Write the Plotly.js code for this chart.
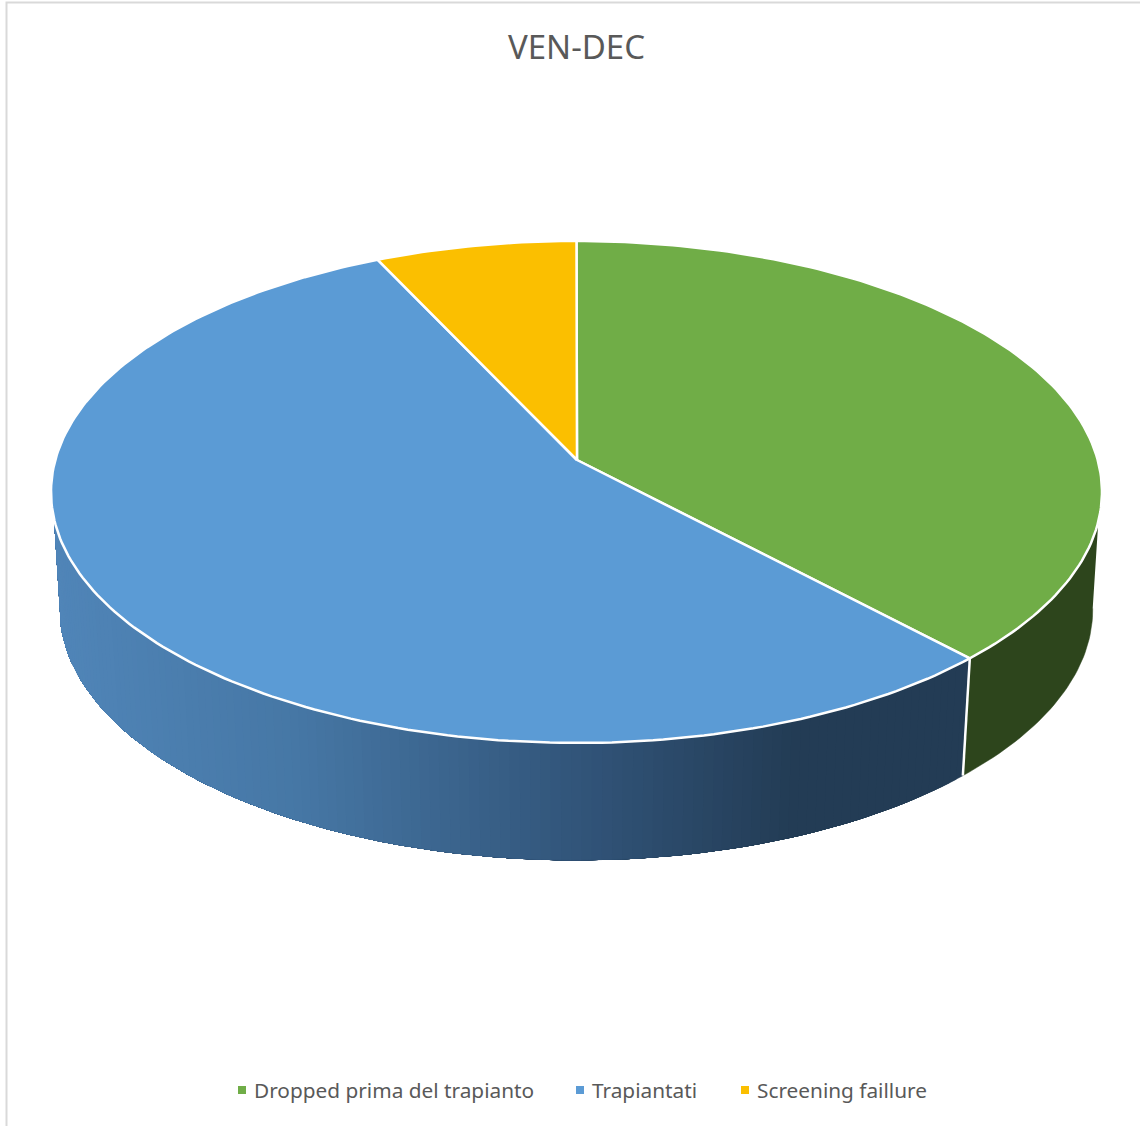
<!DOCTYPE html>
<html>
<head>
<meta charset="utf-8">
<script src="https://cdn.plot.ly/plotly-3.0.1.min.js"></script>
<style>html,body{margin:0;padding:0;background:#fff}#chart{width:1140px;height:1126px}</style>
</head>
<body>
<div id="chart"></div>
<script>
const chartTitle = "VEN-DEC";
const categories = ["Dropped prima del trapianto", "Trapiantati", "Screening faillure"];
const shares = [38, 55, 7];
const topColors = ["#70AD47", "#5B9BD5", "#FBBF00"];
const greenSideColor = "#2D451C";
const blueSideStops = [[60, [80, 133, 184]], [300, [70, 119, 165]], [600, [48, 82, 118]], [790, [35, 60, 85]], [970, [35, 60, 85]]];
const legendLefts = [214, 552, 717];

// Perspective projection of the tilted disc
const tilt = 0.1274;
const topDisc = {cx: 576.5, cy: 460, A: 521.2, B: 246.9};
const baseDisc = {cx: 576.5, cy: 578, A: 512, B: 246};
function rim(deg, d) {
  const t = deg * Math.PI / 180, s = Math.sin(t), c = Math.cos(t), w = 1 + tilt * c;
  return [d.cx + d.A * s / w, d.cy - d.B * c / w];
}
function range(a, b, step) {
  const out = [], n = Math.max(1, Math.ceil(Math.abs(b - a) / step));
  for (let i = 0; i <= n; i++) out.push(a + (b - a) * i / n);
  return out;
}
function poly(points, fill, lineColor, lineWidth) {
  return {
    type: "scatter", mode: "lines", x: points.map(p => p[0]), y: points.map(p => p[1]),
    fill: "toself", fillcolor: fill, line: {color: lineColor, width: lineWidth},
    hoverinfo: "skip", showlegend: false
  };
}
function blueShade(x) {
  const st = blueSideStops;
  let i = 0;
  while (i < st.length - 2 && x > st[i + 1][0]) i++;
  const f = Math.min(1, Math.max(0, (x - st[i][0]) / (st[i + 1][0] - st[i][0])));
  const col = st[i][1].map((v, k) => Math.round(v + (st[i + 1][1][k] - v) * f));
  return "rgb(" + col.join(",") + ")";
}

const total = shares.reduce((a, b) => a + b, 0);
const edges = [0];
shares.forEach(v => edges.push(edges[edges.length - 1] + v / total * 360));

const sideTopStart = 104, sideBaseStart = 97, sideTopEnd = 256, sideBaseEnd = 263;
const traces = [];

// Green side
traces.push(poly(
  range(sideTopStart, edges[1], 1).map(a => rim(a, topDisc))
    .concat(range(edges[1], sideBaseStart, 1).map(a => rim(a, baseDisc))),
  greenSideColor, greenSideColor, 0.5));

// Blue side: each band runs to the far end and is overpainted by the next,
// so the horizontal shading has no seams
const stripStep = 1;
const stripAngles = range(edges[1], sideTopEnd, stripStep);
const farEnd = range(sideBaseEnd, sideTopEnd, 1).map(a => rim(a, baseDisc));
stripAngles.slice(0, -1).forEach((a, i) => {
  const pts = range(a, sideTopEnd, 2).map(v => rim(v, topDisc))
    .concat(range(sideBaseEnd, a, 2).map(v => rim(v, baseDisc)));
  const col = blueShade(rim(a + stripStep / 2, baseDisc)[0]);
  traces.push(poly(pts, col, col, 0.5));
});

// Separator on the side wall
traces.push({
  type: "scatter", mode: "lines",
  x: [rim(edges[1], topDisc)[0], rim(edges[1], baseDisc)[0]],
  y: [rim(edges[1], topDisc)[1], rim(edges[1], baseDisc)[1]],
  line: {color: "#fff", width: 2.5}, hoverinfo: "skip", showlegend: false
});

// Top slices
shares.forEach((v, i) => {
  const pts = [[topDisc.cx + 0.5, topDisc.cy]]
    .concat(range(edges[i], edges[i + 1], 1).map(a => rim(a, topDisc)));
  pts.push([topDisc.cx + 0.5, topDisc.cy]);
  traces.push(poly(pts, topColors[i], "#fff", 2.5));
});

// Legend entries: one native legend per entry so each can sit at its own place
const legendIds = ["legend", "legend2", "legend3"];
categories.forEach((name, i) => traces.push({
  type: "scatter", mode: "markers", x: [null], y: [null], name: name, legend: legendIds[i],
  marker: {symbol: "square", size: 8, color: topColors[i]}, hoverinfo: "skip", showlegend: true
}));

const layout = {
  width: 1140, height: 1126,
  margin: {l: 0, r: 0, t: 0, b: 0},
  paper_bgcolor: "#fff", plot_bgcolor: "#fff",
  font: {family: "'Noto Sans', sans-serif", color: "#595959"},
  title: {text: chartTitle, x: 576.5 / 1140, xanchor: "center", y: 1 - 47 / 1126, yanchor: "middle",
          font: {size: 33, color: "#595959", family: "'Noto Sans', sans-serif"}},
  xaxis: {range: [0, 1140], visible: false, fixedrange: true},
  yaxis: {range: [1126, 0], visible: false, fixedrange: true},
  showlegend: true,
  shapes: [{type: "path", path: "M6.5,1126 L6.5,2.5 L1140,2.5", line: {color: "#D9D9D9", width: 2},
            xref: "x", yref: "y", layer: "below"}]
};
legendIds.forEach((id, i) => {
  layout[id] = {orientation: "h", x: legendLefts[i] / 1140, xanchor: "left", y: 1 - 1090.5 / 1126, yanchor: "middle",
                font: {size: 20.8, color: "#595959"}, itemwidth: 30, bgcolor: "rgba(0,0,0,0)",
                itemclick: false, itemdoubleclick: false};
});
Plotly.newPlot("chart", traces, layout, {displayModeBar: false}).then(() => {
  // The reference keeps its swatch closer to the label than Plotly's minimum item width
  document.querySelectorAll("#chart .legendsymbols").forEach(g => g.setAttribute("transform", "translate(8,0)"));
});
</script>
</body>
</html>
